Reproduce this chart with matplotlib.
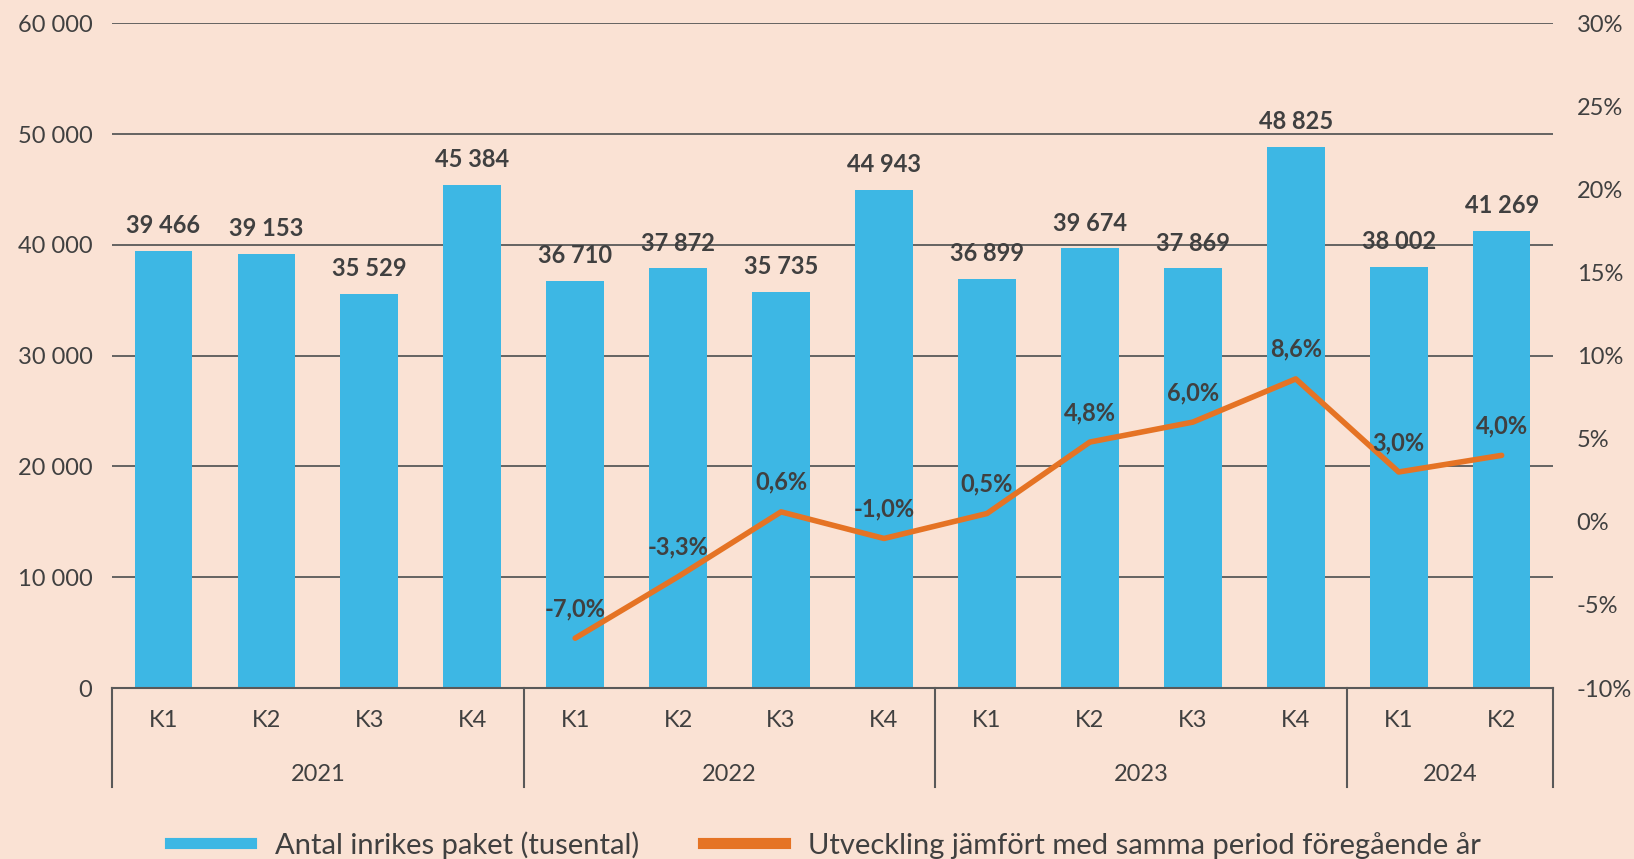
import matplotlib.pyplot as plt
from matplotlib.lines import Line2D
import matplotlib.transforms as mtransforms

# Data
years = ["2021", "2022", "2023", "2024"]
quarters_per_year = [4, 4, 4, 2]
kvartal = ["K1", "K2", "K3", "K4", "K1", "K2", "K3", "K4", "K1", "K2", "K3", "K4", "K1", "K2"]
paket = [39466, 39153, 35529, 45384, 36710, 37872, 35735, 44943,
         36899, 39674, 37869, 48825, 38002, 41269]
# change vs same period previous year (starts 2022 K1)
utveckling = [-7.0, -3.3, 0.6, -1.0, 0.5, 4.8, 6.0, 8.6, 3.0, 4.0]

bg = "#FAE2D4"
blue = "#3DB7E4"
orange = "#E57324"
txt = "#404040"

plt.rcParams['font.family'] = ['Lato', 'DejaVu Sans']

fig = plt.figure(figsize=(16.34, 8.59), dpi=100, facecolor=bg)
ax = fig.add_axes([0.0685, 0.199, 0.882, 0.774])
ax.set_facecolor(bg)

x = list(range(len(paket)))
ax.bar(x, paket, width=0.56, color=blue, zorder=2)
ax.set_xlim(-0.5, len(paket) - 0.5)
ax.set_ylim(0, 60000)
ax.set_yticks(range(0, 60001, 10000))
ax.set_yticklabels([f"{v:,}".replace(",", " ") for v in range(0, 60001, 10000)])
ax.yaxis.grid(True, color="#595959", lw=1.3, zorder=0)
ax.set_axisbelow(True)
for s in ["top", "left", "right"]:
    ax.spines[s].set_visible(False)
ax.spines["bottom"].set_color("#595959")
ax.spines["bottom"].set_linewidth(1.5)
ax.tick_params(axis="y", length=0, pad=14, labelsize=17, labelcolor=txt)
ax.set_xticks(x)
ax.set_xticklabels(kvartal)
ax.tick_params(axis="x", length=0, pad=16, labelsize=17, labelcolor=txt)

for xi, v in zip(x, paket):
    ax.annotate(f"{v:,}".replace(",", " "), (xi, v), xytext=(0, 10),
                textcoords="offset points", ha="center", va="bottom",
                fontsize=17, fontweight="bold", color=txt)

# group separators and year labels
trans = mtransforms.blended_transform_factory(ax.transData, ax.transAxes)
edge = -0.5
ax.plot([edge, edge], [0, -0.149], transform=trans, color="#595959", lw=1.5, clip_on=False)
for yr, n in zip(years, quarters_per_year):
    ax.text(edge + n / 2, -0.13, yr, transform=trans, ha="center", va="center",
            fontsize=17, color=txt)
    edge += n
    ax.plot([edge, edge], [0, -0.149], transform=trans, color="#595959", lw=1.5, clip_on=False)

# secondary axis
ax2 = ax.twinx()
ax2.set_ylim(-10, 30)
ax2.set_yticks(range(-10, 31, 5))
ax2.set_yticklabels([f"{v}%" for v in range(-10, 31, 5)])
ax2.tick_params(axis="y", length=0, pad=17, labelsize=17, labelcolor=txt)
for s in ax2.spines.values():
    s.set_visible(False)

lx = x[len(paket) - len(utveckling):]
ax2.plot(lx, utveckling, color=orange, lw=4, zorder=3, solid_capstyle="round")
for xi, v in zip(lx, utveckling):
    ax2.annotate(f"{v:.1f}%".replace(".", ","), (xi, v), xytext=(0, 13),
                 textcoords="offset points", ha="center", va="bottom",
                 fontsize=17, fontweight="bold", color=txt)

handles = [Line2D([0], [0], color=blue, lw=8),
           Line2D([0], [0], color=orange, lw=8)]
fig.legend(handles, ["Antal inrikes paket (tusental)",
                     "Utveckling jämfört med samma period föregående år"],
           loc="lower center", bbox_to_anchor=(0.505, -0.03), ncol=2, frameon=False,
           fontsize=21, labelcolor=txt, handlelength=2.8, columnspacing=2.2)

fig.savefig("out.png", dpi=100, facecolor=bg)
